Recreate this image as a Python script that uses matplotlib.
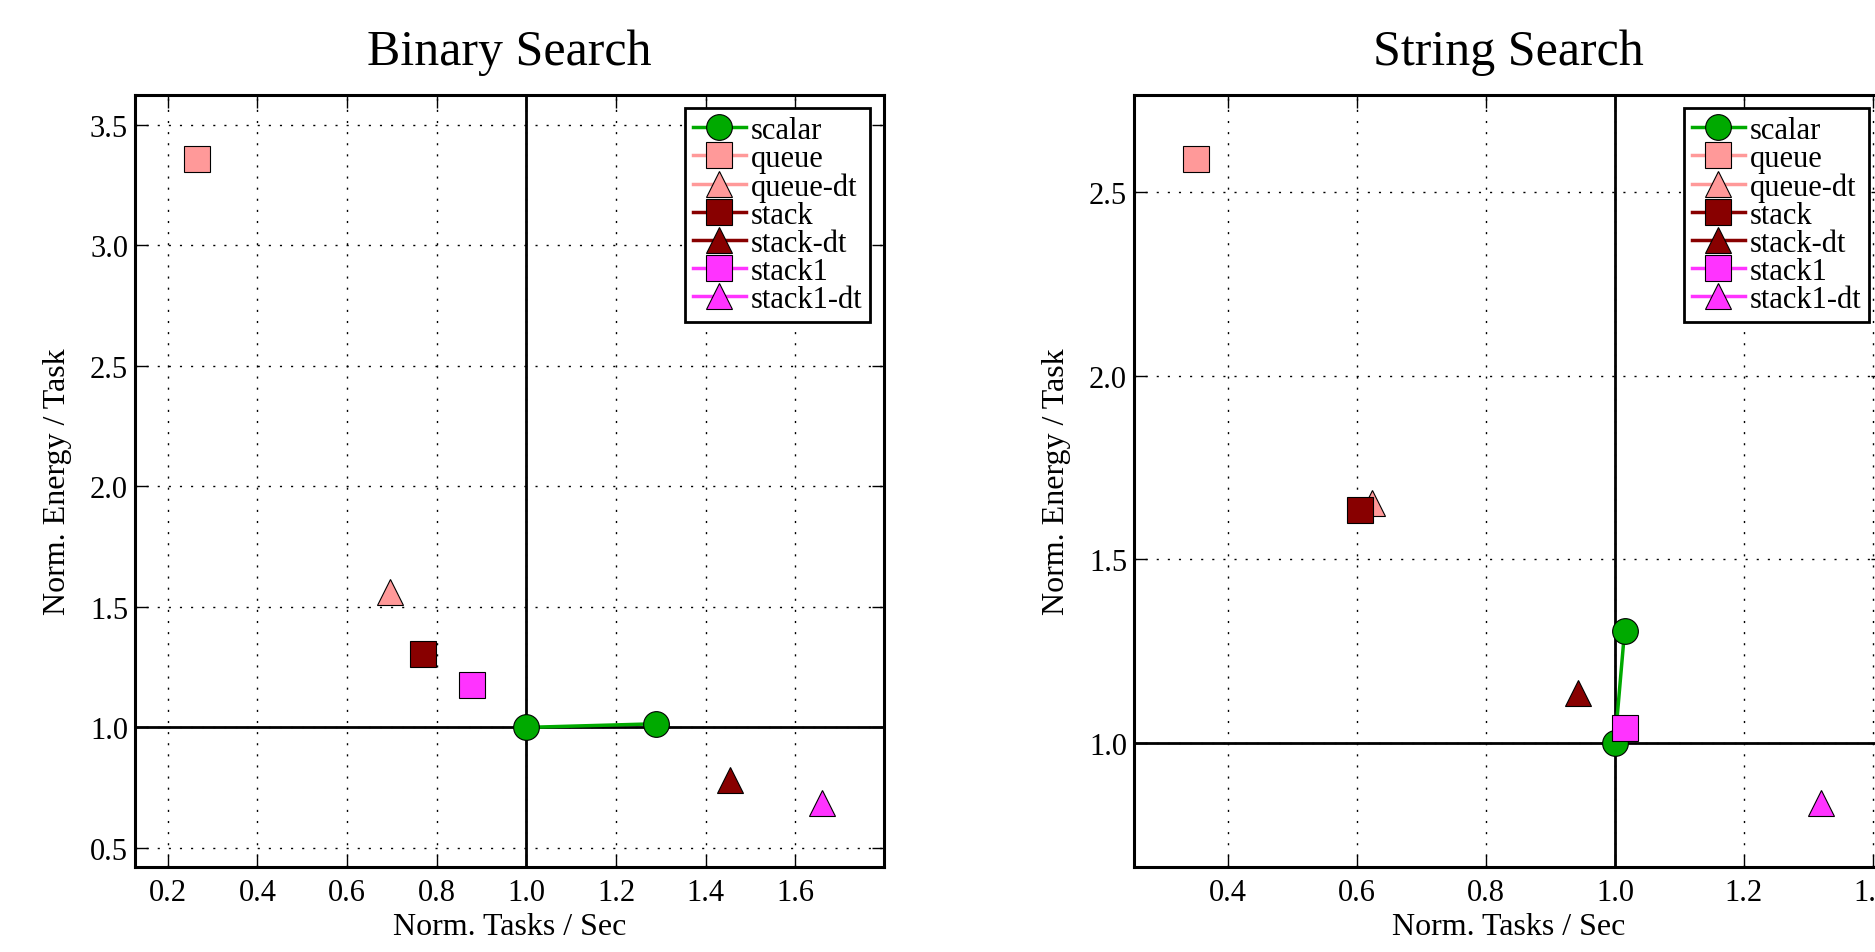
import matplotlib
matplotlib.use("Agg")
import matplotlib.pyplot as plt
from matplotlib.ticker import MultipleLocator

# === data ===
series_names = ["scalar", "queue", "queue-dt", "stack", "stack-dt", "stack1", "stack1-dt"]
series_colors = ["#00aa00", "#ff9999", "#ff9999", "#880000", "#880000", "#ff33ff", "#ff33ff"]
series_markers = ["o", "s", "^", "s", "^", "s", "^"]

# Binary Search: (tasks/sec, energy/task) per series
binary_x = [[1.0, 1.29], [0.266], [0.696], [0.769], [1.455], [0.878], [1.659]]
binary_y = [[1.0, 1.015], [3.357], [1.561], [1.304], [0.78], [1.174], [0.688]]

# String Search
string_x = [[1.0, 1.015], [0.351], [0.623], [0.605], [0.942], [1.015], [1.319]]
string_y = [[1.0, 1.305], [2.59], [1.654], [1.634], [1.135], [1.039], [0.837]]

titles = ["Binary Search", "String Search"]
x_label = "Norm. Tasks / Sec"
y_label = "Norm. Energy / Task"

plt.rcParams["font.family"] = ["Liberation Serif", "DejaVu Serif"]

fig = plt.figure(figsize=(18.75, 9.53), dpi=100)
ax1 = fig.add_axes([0.072, 0.0892, 0.3995, 0.8104])
ax2 = fig.add_axes([0.6048, 0.0892, 0.3995, 0.8104])


def draw_panel(ax, xs, ys, title, xstep, ystep):
    ax.axhline(1.0, color="black", lw=2, zorder=1.5)
    ax.axvline(1.0, color="black", lw=2, zorder=1.5)
    for name, col, mk, x, y in zip(series_names, series_colors, series_markers, xs, ys):
        ax.plot(x, y, "-", color=col, lw=2.5, marker=mk, ms=18.5,
                mfc=col, mec="black", mew=0.8, label=name, zorder=3)
    ax.margins(0.1)
    ax.xaxis.set_major_locator(MultipleLocator(xstep))
    ax.yaxis.set_major_locator(MultipleLocator(ystep))
    ax.xaxis.set_major_formatter(matplotlib.ticker.FormatStrFormatter("%.1f"))
    ax.yaxis.set_major_formatter(matplotlib.ticker.FormatStrFormatter("%.1f"))
    ax.grid(True, color="black", lw=1, linestyle=(0, (1.5, 6.5)), zorder=1)
    ax.set_axisbelow(True)
    ax.tick_params(direction="in", top=True, right=True, length=9, width=1,
                   labelsize=22, color="black")
    ax.tick_params(axis="x", pad=8)
    ax.tick_params(axis="y", pad=5)
    for sp in ax.spines.values():
        sp.set_linewidth(2.2)
        sp.set_color("black")
    ax.set_title(title, fontsize=36, pad=22)
    ax.set_xlabel(x_label, fontsize=23)
    ax.set_ylabel(y_label, fontsize=23)
    ax.xaxis.set_label_coords(0.5, -0.058)
    ax.yaxis.set_label_coords(-0.084, 0.5)
    leg = ax.legend(loc="upper right", fontsize=22, numpoints=1, labelspacing=-0.03,
                    handlelength=1.75, handletextpad=0.16, borderpad=0.25,
                    borderaxespad=0.45, fancybox=False, framealpha=1)
    leg.get_frame().set_edgecolor("black")
    leg.get_frame().set_linewidth(2)


draw_panel(ax1, binary_x, binary_y, titles[0], 0.2, 0.5)
draw_panel(ax2, string_x, string_y, titles[1], 0.2, 0.5)

fig.savefig("out.png", dpi=100)
